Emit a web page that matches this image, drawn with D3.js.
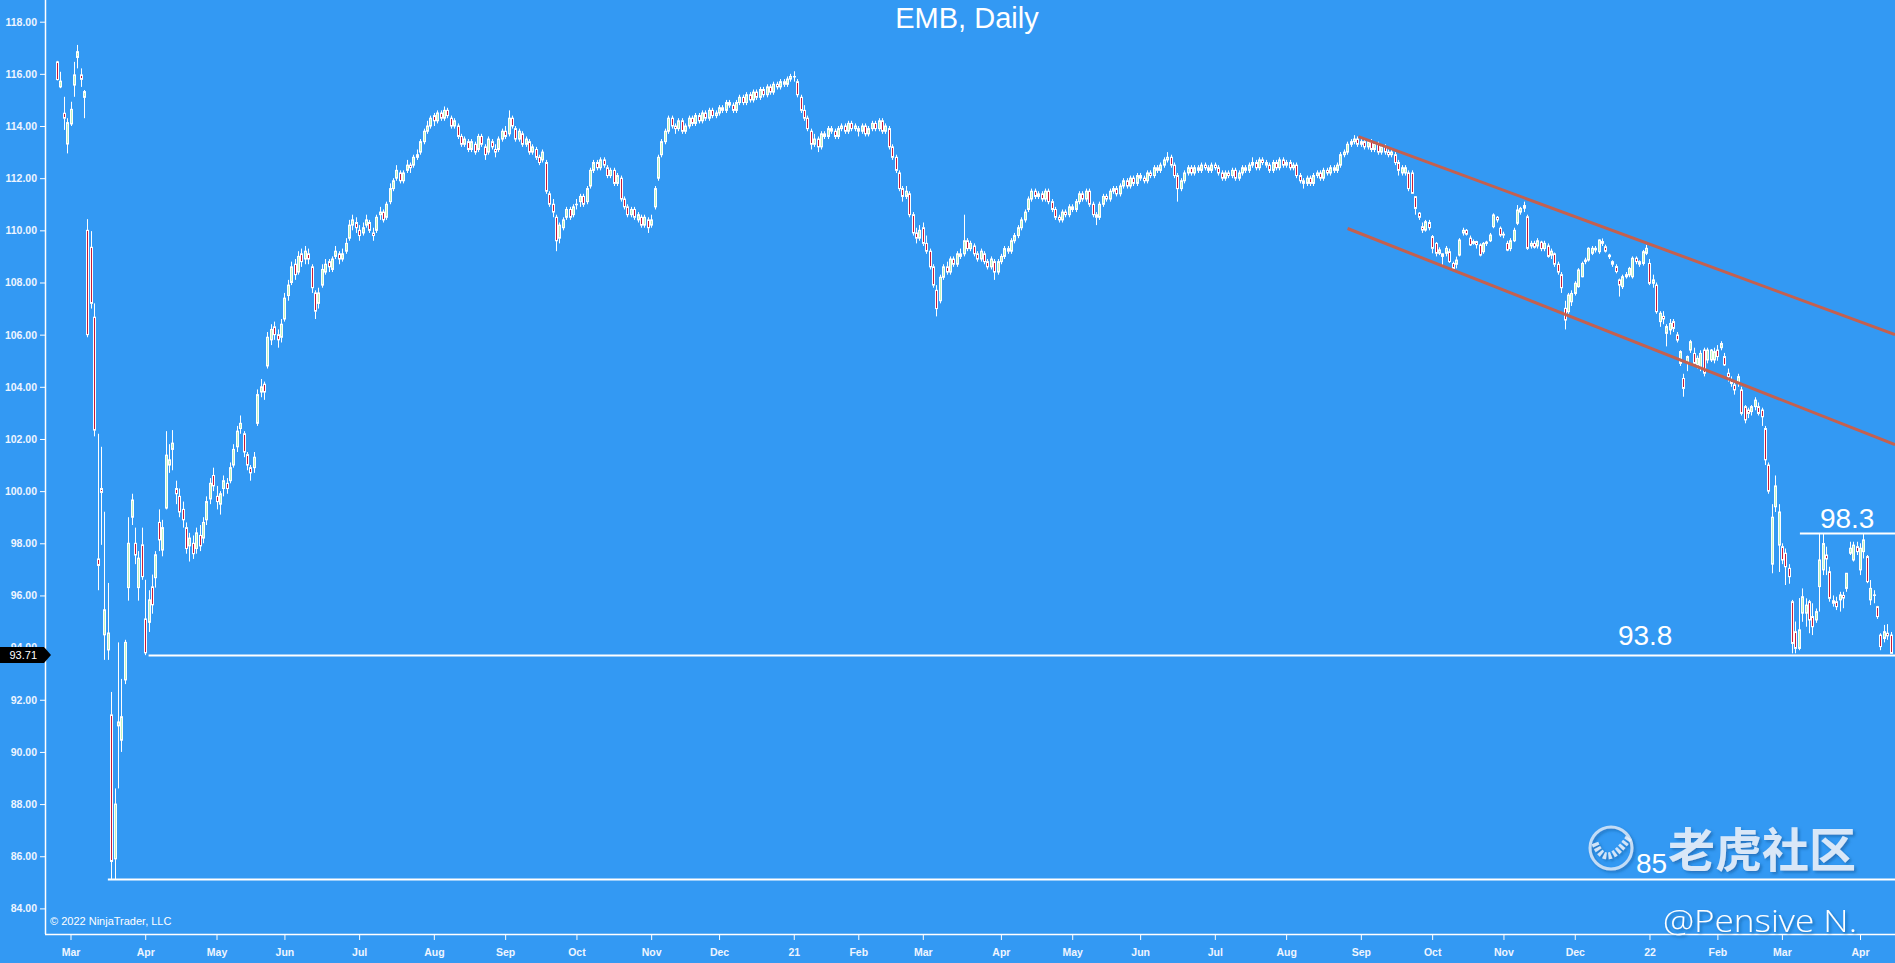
<!DOCTYPE html>
<html>
<head>
<meta charset="utf-8">
<script src="https://d3js.org/d3.v7.min.js"></script>
<style>
  html, body { margin: 0; padding: 0; overflow: hidden; background: #3399f3; }
  svg { display: block; }
  .axis text { fill: #eef5ff; font-family: "Liberation Sans", Arial, sans-serif; font-size: 10.5px; font-weight: bold; }
  .axis line { stroke: #ffffff; }
  .axis path { display: none; }
</style>
</head>
<body>
<script>
// EMB daily bars, Feb 25 2020 .. Apr 14 2022, one row per trading day: [open, high, low, close]
var candles = [
  // Feb 2020
  [116.46,116.5,115.75,115.78],[115.5,116.08,115.45,115.72],[114.49,115.12,113.85,114.3],[113.31,114.3,112.95,114.13],
  // Mar 2020
  [114.08,114.93,114.0,114.64],[115.57,116.46,115.12,115.96],[116.63,117.11,116.21,116.85],[115.96,116.21,115.5,115.79],[115.1,115.38,114.3,115.32],
  [110.0,110.43,105.9,106.0],[109.35,109.97,107.0,107.2],[106.67,107.2,102.1,102.34],[97.4,102.2,96.2,97.15],[100.1,101.7,97.94,99.95],
  [94.49,99.21,93.53,95.45],[93.91,96.48,93.53,94.56],[91.42,92.3,85.1,85.8],[85.9,88.6,85.1,88.0],[91.0,94.2,88.6,91.15],
  [90.45,92.8,90.0,91.35],[92.76,94.3,92.6,94.2],[96.3,99.0,95.8,98.0],[99.0,99.9,98.7,99.66],[98.0,98.6,97.2,97.55],
  [96.3,97.7,95.8,97.43],[97.94,98.6,96.6,96.72],
  // Apr 2020
  [95.1,96.6,93.71,93.8],[94.97,96.2,94.6,95.83],[96.33,96.8,95.3,95.64],[96.68,97.7,96.3,97.56],[98.8,99.3,97.7,98.13],
  [97.74,98.9,97.5,98.6],[99.35,102.3,99.3,101.38],[101.0,101.8,100.7,101.2],[101.6,102.34,100.8,101.84],[100.1,100.4,99.5,99.9],
  [99.8,100.1,99.0,99.2],[99.3,99.6,98.6,98.9],[98.6,98.8,97.6,97.8],[97.9,98.4,97.3,98.2],[98.0,98.3,97.4,97.6],
  [97.8,98.6,97.6,98.4],[98.3,98.7,97.7,97.9],[98.2,99.0,98.0,98.8],[98.9,99.8,98.7,99.6],[99.7,100.5,99.5,100.3],
  [100.6,100.9,100.0,100.2],
  // May 2020
  [99.8,100.2,99.3,99.6],[99.5,100.0,99.1,99.9],[100.1,100.6,99.8,100.4],[100.3,100.5,99.9,100.1],[100.4,101.1,100.3,100.9],
  [101.0,101.8,100.9,101.6],[101.7,102.5,101.5,102.3],[102.4,102.9,102.2,102.6],[102.2,102.3,101.3,101.5],[101.4,101.5,100.8,101.0],
  [100.9,101.0,100.4,100.7],[100.9,101.5,100.7,101.3],[102.6,103.9,102.5,103.7],[103.8,104.3,103.6,104.0],[104.1,104.2,103.5,103.8],
  [104.8,106.1,104.7,105.9],[105.8,106.4,105.6,106.2],[106.3,106.5,105.8,106.0],[106.0,106.2,105.5,105.8],[105.9,106.6,105.7,106.4],
  // Jun 2020
  [106.6,107.6,106.5,107.4],[107.5,108.1,107.3,107.9],[108.0,108.8,107.9,108.6],[108.7,108.9,108.1,108.3],[108.4,109.2,108.3,109.0],
  [109.1,109.3,108.6,108.8],[108.9,109.4,108.7,109.2],[109.1,109.3,108.7,108.9],[108.6,108.7,107.6,107.8],[107.6,107.7,106.6,106.9],
  [107.2,107.8,107.0,107.6],[107.9,108.7,107.8,108.5],[108.4,108.9,108.3,108.7],[108.8,108.9,108.4,108.6],[108.5,109.0,108.4,108.9],
  [109.0,109.4,108.9,109.2],[109.1,109.2,108.7,108.9],[108.9,109.3,108.8,109.1],[109.2,109.7,109.1,109.5],[109.7,110.4,109.6,110.2],
  [110.2,110.6,110.0,110.4],[110.3,110.5,109.9,110.1],
  // Jul 2020
  [110.0,110.2,109.6,109.8],[109.9,110.3,109.8,110.1],[110.2,110.6,110.1,110.4],[110.3,110.4,109.9,110.0],[109.9,110.1,109.6,109.8],
  [110.0,110.6,109.9,110.5],[110.6,110.9,110.4,110.7],[110.7,110.8,110.3,110.4],[110.5,111.1,110.4,111.0],[111.1,111.8,111.0,111.6],
  [111.6,112.0,111.5,111.9],[112.0,112.5,111.9,112.3],[112.2,112.3,111.8,111.9],[111.9,112.3,111.8,112.2],[112.3,112.7,112.2,112.5],
  [112.5,112.6,112.2,112.4],[112.5,112.9,112.4,112.8],[112.8,113.1,112.7,112.9],[113.0,113.5,112.9,113.4],[113.4,113.9,113.3,113.8],
  [113.8,114.2,113.7,114.0],[114.0,114.4,113.9,114.3],
  // Aug 2020
  [114.4,114.5,114.0,114.2],[114.2,114.6,114.1,114.5],[114.5,114.6,114.2,114.3],[114.3,114.75,114.2,114.6],[114.6,114.7,114.3,114.4],
  [114.3,114.4,113.9,114.0],[114.0,114.3,113.9,114.2],[114.0,114.1,113.5,113.6],[113.6,113.7,113.2,113.3],[113.3,113.6,113.2,113.5],
  [113.4,113.5,113.0,113.1],[113.1,113.5,113.0,113.4],[113.3,113.4,112.9,113.0],[113.1,113.7,113.0,113.6],[113.6,113.7,113.2,113.3],
  [113.2,113.3,112.7,112.9],[113.0,113.6,112.9,113.5],[113.4,113.5,113.1,113.2],[113.1,113.3,112.8,113.0],[113.1,113.6,113.0,113.5],
  [113.5,113.9,113.4,113.8],
  // Sep 2020
  [113.8,114.0,113.5,113.6],[113.7,114.6,113.6,114.3],[114.3,114.4,113.9,114.0],[113.9,114.0,113.4,113.5],[113.5,113.9,113.4,113.8],
  [113.7,113.8,113.2,113.3],[113.3,113.6,113.2,113.5],[113.4,113.5,112.9,113.0],[113.0,113.3,112.9,113.2],[113.1,113.2,112.7,112.8],
  [112.8,112.9,112.5,112.6],[112.7,113.1,112.6,113.0],[112.6,112.7,111.4,111.5],[111.4,111.5,110.9,111.0],[111.0,111.2,110.5,110.7],
  [110.5,110.6,109.2,109.6],[109.7,110.3,109.5,110.2],[110.1,110.5,110.0,110.4],[110.5,110.9,110.4,110.8],[110.8,110.9,110.4,110.5],
  [110.6,111.0,110.5,110.9],
  // Oct 2020
  [111.0,111.2,110.8,111.0],[111.1,111.4,110.9,111.3],[111.3,111.4,110.9,111.0],[111.1,111.7,111.0,111.6],[111.7,112.4,111.6,112.3],
  [112.3,112.7,112.2,112.6],[112.6,112.7,112.3,112.4],[112.4,112.8,112.3,112.7],[112.7,112.8,112.4,112.5],[112.4,112.5,112.0,112.1],
  [112.1,112.4,112.0,112.3],[112.3,112.4,111.7,111.8],[111.8,112.2,111.7,112.1],[112.0,112.1,111.1,111.2],[111.2,111.3,110.8,110.9],
  [110.9,111.0,110.5,110.6],[110.6,110.9,110.5,110.8],[110.8,110.9,110.4,110.5],[110.4,110.7,110.3,110.6],[110.5,110.6,110.1,110.2],
  [110.2,110.6,110.1,110.5],[110.4,110.5,109.9,110.1],
  // Nov 2020
  [110.2,110.6,110.1,110.4],[110.9,111.7,110.8,111.6],[112.0,112.9,111.9,112.8],[112.9,113.5,112.8,113.4],[113.4,113.9,113.3,113.8],
  [113.8,114.4,113.7,114.3],[114.3,114.4,113.9,114.0],[114.0,114.1,113.7,113.9],[113.9,114.3,113.8,114.2],[114.2,114.3,113.7,113.8],
  [113.8,114.1,113.7,114.0],[114.0,114.4,113.9,114.3],[114.3,114.4,114.0,114.1],[114.1,114.5,114.0,114.4],[114.4,114.5,114.1,114.2],
  [114.2,114.6,114.1,114.5],[114.5,114.6,114.2,114.3],[114.3,114.7,114.2,114.6],[114.6,114.7,114.3,114.4],[114.4,114.6,114.3,114.5],
  // Dec 2020
  [114.5,114.8,114.4,114.7],[114.7,114.8,114.5,114.6],[114.6,115.0,114.5,114.9],[114.9,115.0,114.7,114.8],[114.8,114.9,114.5,114.6],
  [114.6,115.0,114.5,114.9],[114.9,115.2,114.8,115.1],[115.1,115.2,114.8,114.9],[114.9,115.3,114.8,115.2],[115.2,115.3,114.9,115.0],
  [115.0,115.4,114.9,115.3],[115.3,115.4,115.0,115.1],[115.1,115.5,115.0,115.4],[115.4,115.5,115.1,115.2],[115.2,115.6,115.1,115.5],
  [115.5,115.6,115.2,115.3],[115.3,115.7,115.2,115.6],[115.6,115.7,115.4,115.5],[115.5,115.8,115.4,115.7],[115.7,115.8,115.5,115.6],
  [115.6,115.9,115.5,115.8],[115.8,116.0,115.7,115.9],
  // Jan 2021
  [115.9,116.1,115.7,115.9],[115.7,115.8,115.1,115.2],[115.1,115.2,114.5,114.6],[114.6,114.8,114.2,114.3],[114.3,114.4,113.8,113.9],
  [113.8,113.9,113.1,113.3],[113.3,113.7,113.2,113.5],[113.5,113.6,113.0,113.2],[113.2,113.8,113.1,113.7],[113.7,113.8,113.5,113.6],
  [113.6,114.0,113.5,113.9],[113.9,114.0,113.7,113.8],[113.8,113.9,113.5,113.6],[113.6,114.0,113.5,113.9],[113.9,114.1,113.8,114.0],
  [114.0,114.1,113.7,113.8],[113.8,114.2,113.7,114.1],[114.1,114.2,113.8,113.9],[113.9,114.1,113.8,114.0],
  // Feb 2021
  [113.9,114.0,113.6,113.8],[113.8,114.1,113.7,114.0],[114.0,114.1,113.6,113.7],[113.7,114.0,113.6,113.9],[113.9,114.2,113.8,114.1],
  [114.1,114.2,113.8,113.9],[113.9,114.3,113.8,114.2],[114.2,114.3,113.7,113.8],[113.8,114.1,113.7,114.0],[113.9,114.0,113.1,113.2],
  [113.2,113.3,112.7,112.8],[112.8,112.9,112.2,112.3],[112.2,112.3,111.5,111.6],[111.6,111.7,111.1,111.3],[111.3,111.7,111.2,111.5],
  [111.4,111.5,110.5,110.6],[110.6,110.7,109.8,109.9],[109.9,110.1,109.5,109.7],[109.7,110.2,109.6,110.0],
  // Mar 2021
  [110.1,110.3,109.4,109.5],[109.5,109.8,109.1,109.2],[109.2,109.3,108.5,108.6],[108.6,108.7,107.8,107.9],[107.7,107.9,106.7,107.0],
  [107.3,108.3,107.2,108.2],[108.2,108.7,108.1,108.6],[108.6,108.8,108.3,108.4],[108.4,109.0,108.3,108.9],[108.9,109.0,108.6,108.7],
  [108.7,109.2,108.6,109.1],[109.1,109.3,108.9,109.0],[109.1,110.6,109.0,109.6],[109.6,109.7,109.2,109.3],[109.3,109.6,109.2,109.5],
  [109.4,109.5,109.0,109.1],[109.1,109.2,108.8,108.9],[108.9,109.3,108.8,109.2],[109.1,109.2,108.7,108.8],[108.8,108.9,108.5,108.6],
  [108.6,109.0,108.5,108.9],[108.8,108.9,108.1,108.4],[108.4,108.9,108.3,108.8],
  // Apr 2021
  [108.8,109.1,108.7,109.0],[109.0,109.4,108.9,109.3],[109.3,109.4,109.1,109.2],[109.2,109.7,109.1,109.6],[109.6,109.9,109.5,109.8],
  [109.8,110.2,109.7,110.1],[110.1,110.5,110.0,110.4],[110.4,110.8,110.3,110.7],[110.8,111.3,110.7,111.2],[111.2,111.6,111.1,111.5],
  [111.5,111.6,111.2,111.3],[111.3,111.5,111.2,111.4],[111.4,111.5,111.1,111.2],[111.2,111.6,111.1,111.5],[111.5,111.6,111.0,111.1],
  [111.1,111.2,110.7,110.8],[110.8,110.9,110.4,110.5],[110.5,110.6,110.3,110.4],[110.4,110.8,110.3,110.7],[110.7,110.8,110.5,110.6],
  [110.6,111.0,110.5,110.9],
  // May 2021
  [110.9,111.0,110.7,110.8],[110.8,111.2,110.7,111.1],[111.1,111.5,111.0,111.4],[111.4,111.5,111.1,111.2],[111.2,111.6,111.1,111.5],
  [111.5,111.6,110.9,111.0],[111.0,111.1,110.5,110.6],[110.6,110.7,110.2,110.5],[110.5,111.1,110.4,111.0],[111.0,111.4,110.9,111.3],
  [111.3,111.4,111.1,111.2],[111.2,111.6,111.1,111.5],[111.5,111.7,111.4,111.6],[111.6,111.7,111.3,111.4],[111.4,111.8,111.3,111.7],
  [111.7,112.0,111.6,111.9],[111.9,112.0,111.6,111.7],[111.7,112.1,111.6,112.0],[112.0,112.1,111.7,111.8],[111.8,112.2,111.7,112.1],
  // Jun 2021
  [112.1,112.2,111.9,112.0],[112.0,112.1,111.8,111.9],[111.9,112.3,111.8,112.2],[112.2,112.3,112.0,112.1],[112.1,112.5,112.0,112.4],
  [112.4,112.5,112.2,112.3],[112.3,112.6,112.2,112.5],[112.5,112.8,112.4,112.7],[112.7,113.0,112.6,112.8],[112.8,112.9,112.4,112.5],
  [112.5,112.6,112.0,112.1],[112.1,112.2,111.1,111.6],[111.6,112.0,111.5,111.9],[111.9,112.3,111.8,112.2],[112.2,112.5,112.1,112.4],
  [112.4,112.5,112.1,112.2],[112.2,112.5,112.1,112.4],[112.4,112.5,112.2,112.3],[112.3,112.6,112.2,112.5],[112.5,112.6,112.3,112.4],
  [112.4,112.5,112.2,112.3],[112.3,112.6,112.2,112.5],
  // Jul 2021
  [112.5,112.6,112.3,112.4],[112.4,112.5,112.1,112.2],[112.2,112.3,111.9,112.0],[112.0,112.3,111.9,112.2],[112.2,112.3,112.0,112.1],
  [112.1,112.4,112.0,112.3],[112.3,112.4,111.9,112.0],[112.0,112.3,111.9,112.2],[112.2,112.5,112.1,112.4],[112.4,112.5,112.2,112.3],
  [112.3,112.6,112.2,112.5],[112.5,112.8,112.4,112.6],[112.6,112.7,112.3,112.4],[112.4,112.8,112.3,112.7],[112.7,112.8,112.5,112.6],
  [112.6,112.7,112.4,112.5],[112.5,112.6,112.2,112.3],[112.3,112.7,112.2,112.6],[112.6,112.7,112.3,112.4],[112.4,112.8,112.3,112.7],
  [112.7,112.8,112.4,112.5],
  // Aug 2021
  [112.5,112.7,112.4,112.6],[112.6,112.7,112.3,112.4],[112.4,112.6,112.3,112.5],[112.5,112.6,112.0,112.1],[112.1,112.2,111.8,111.9],
  [111.9,112.0,111.6,111.8],[111.8,112.1,111.7,112.0],[112.0,112.1,111.7,111.8],[111.8,112.2,111.7,112.1],[112.1,112.3,112.0,112.2],
  [112.2,112.3,111.9,112.0],[112.0,112.4,111.9,112.3],[112.3,112.4,112.1,112.2],[112.2,112.5,112.1,112.4],[112.4,112.5,112.2,112.3],
  [112.3,112.6,112.2,112.5],[112.5,113.0,112.4,112.9],[112.9,113.1,112.8,113.0],[113.0,113.4,112.9,113.3],[113.3,113.5,113.2,113.4],
  [113.4,113.65,113.3,113.5],[113.5,113.6,113.2,113.3],
  // Sep 2021
  [113.3,113.5,113.2,113.4],[113.4,113.5,113.1,113.2],[113.2,113.5,113.1,113.4],[113.4,113.5,113.0,113.1],[113.1,113.4,113.0,113.3],
  [113.3,113.4,112.9,113.0],[113.0,113.3,112.9,113.2],[113.2,113.3,112.9,113.0],[113.0,113.1,112.8,112.9],[112.9,113.1,112.8,113.0],
  [112.9,113.0,112.5,112.6],[112.6,112.7,112.1,112.3],[112.2,112.5,112.1,112.4],[112.2,112.5,112.1,112.4],[112.2,112.3,111.5,111.6],
  [112.2,112.3,111.4,111.42],[111.29,111.3,110.6,110.84],[110.66,110.7,110.4,110.5],[110.14,110.3,109.9,110.01],[110.01,110.4,109.95,110.33],
  [110.3,110.4,110.0,110.1],
  // Oct 2021
  [109.76,109.82,109.12,109.31],[109.5,109.55,109.0,109.12],[109.12,109.35,109.05,109.25],[109.1,109.12,108.6,109.0],[109.12,109.4,109.0,109.31],
  [109.18,109.3,108.75,108.8],[108.73,108.8,108.5,108.54],[108.7,108.99,108.54,108.86],[109.05,109.7,109.0,109.63],[109.9,110.1,109.8,110.0],
  [110.0,110.05,109.8,109.85],[109.7,109.8,109.4,109.44],[109.5,109.65,109.45,109.57],[109.57,109.6,109.3,109.45],[109.44,109.5,109.0,109.05],
  [109.18,109.55,109.1,109.5],[109.5,109.6,109.4,109.55],[109.6,109.9,109.55,109.82],[110.14,110.65,110.08,110.59],[110.5,110.55,110.3,110.4],
  [110.08,110.15,109.75,109.82],
  // Nov 2021
  [109.85,109.95,109.7,109.82],[109.5,109.6,109.2,109.24],[109.3,109.7,109.2,109.6],[109.6,110.1,109.55,110.0],[110.27,110.97,110.2,110.78],
  [110.7,110.9,110.6,110.84],[110.85,111.1,110.7,110.95],[110.52,110.6,109.25,109.31],[109.4,109.6,109.3,109.5],[109.5,109.6,109.3,109.35],
  [109.4,109.7,109.3,109.6],[109.55,109.6,109.2,109.3],[109.3,109.6,109.2,109.5],[109.4,109.5,108.95,109.0],[109.05,109.3,108.9,109.2],
  [109.1,109.15,108.6,108.7],[108.7,108.8,108.3,108.4],[108.3,108.4,107.6,107.8],[107.01,107.3,106.2,106.56],[106.88,107.6,106.8,107.52],
  [107.26,107.7,107.1,107.58],
  // Dec 2021
  [107.58,108.05,107.5,107.97],[107.84,108.55,107.8,108.48],[108.22,108.8,108.2,108.73],[108.8,108.95,108.7,108.86],[108.86,109.35,108.8,109.31],
  [109.12,109.4,109.05,109.31],[109.31,109.4,109.15,109.25],[109.18,109.65,109.1,109.63],[109.57,109.69,109.4,109.5],[109.37,109.45,109.15,109.2],
  [109.05,109.1,108.9,108.99],[108.8,108.85,108.6,108.7],[108.61,108.7,108.35,108.42],[108.1,108.15,107.46,107.9],[107.84,108.3,107.75,108.22],
  [108.22,108.4,108.15,108.3],[108.29,108.6,108.2,108.54],[108.22,109.0,108.15,108.93],[108.93,109.0,108.7,108.8],[108.8,108.85,108.6,108.7],
  [108.73,109.25,108.65,109.18],[109.12,109.44,109.05,109.31],
  // Jan 2022
  [108.73,108.9,107.9,107.97],[107.97,108.3,107.8,108.1],[107.9,108.0,106.8,106.88],[106.5,106.9,106.3,106.82],[106.7,106.9,106.4,106.6],
  [106.05,106.4,105.55,106.31],[106.18,106.6,106.0,106.43],[106.5,106.6,106.1,106.24],[105.99,106.1,105.7,105.79],[104.9,105.4,104.8,105.35],
  [104.32,104.5,103.62,103.94],[104.9,105.2,104.6,105.16],[105.41,105.8,105.3,105.73],[105.28,105.5,104.8,104.9],[104.84,105.2,104.7,105.09],
  [104.77,105.4,104.6,105.28],[105.41,105.5,104.4,104.52],[105.03,105.5,104.9,105.41],[105.03,105.45,104.95,105.41],[105.03,105.5,104.9,105.35],
  // Feb 2022
  [105.41,105.6,105.0,105.16],[105.5,105.75,105.4,105.66],[105.16,105.3,104.8,104.84],[104.52,104.7,104.2,104.39],[104.26,104.4,104.0,104.13],
  [104.07,104.2,103.7,103.88],[104.13,104.5,104.0,104.39],[103.88,104.0,102.9,102.98],[103.24,103.3,102.6,102.73],[103.11,103.2,102.8,102.98],
  [103.05,103.3,102.9,103.24],[103.24,103.6,103.1,103.49],[103.24,103.4,102.9,102.98],[103.11,103.2,102.5,102.85],[102.4,102.5,101.0,101.2],
  [101.0,101.1,99.9,100.0],[97.2,99.5,96.85,99.0],[99.4,100.6,99.2,100.2],[97.93,99.5,96.9,99.2],
  // Mar 2022
  [97.87,98.0,97.2,97.36],[97.62,97.8,96.4,97.1],[97.04,97.2,96.45,96.72],[95.76,95.83,93.78,94.16],[94.61,95.0,93.78,93.97],
  [93.97,95.9,93.9,94.68],[95.32,96.27,94.99,95.95],[95.32,95.89,94.8,95.63],[95.76,95.83,94.55,95.06],[95.19,95.7,94.48,94.8],
  [95.06,95.5,94.95,95.38],[96.34,98.38,95.38,97.36],[96.98,98.38,96.78,97.99],[97.55,97.87,96.78,97.4],[96.91,97.1,95.76,95.89],
  [95.8,96.0,95.57,95.7],[95.76,95.95,95.44,95.57],[95.83,96.14,95.38,96.02],[96.0,96.14,95.51,95.9],[96.27,96.85,96.14,96.85],
  [97.62,98.06,97.55,97.81],[97.36,98.06,97.3,97.93],[97.87,98.06,97.55,97.68],
  // Apr 2022
  [96.98,98.0,96.78,97.81],[97.68,98.38,97.42,98.13],[97.49,97.55,96.47,96.53],[95.83,96.59,95.63,96.27],[96.0,96.2,95.7,96.02],
  [95.57,95.6,95.1,95.19],[94.48,94.55,93.9,94.04],[94.35,94.87,94.2,94.61],[94.55,94.9,94.3,94.45],[94.48,94.6,93.78,93.78]
];

// x axis: month labels and the bar index of each month's first session
var monthLabels = ["Mar","Apr","May","Jun","Jul","Aug","Sep","Oct","Nov","Dec","21","Feb","Mar","Apr","May","Jun","Jul","Aug","Sep","Oct","Nov","Dec","22","Feb","Mar","Apr"];
var monthStart  = [4,26,47,67,89,111,132,153,175,195,217,236,255,278,299,319,341,362,384,405,426,447,469,489,508,531];

// y axis ticks
var priceTicks = [84,86,88,90,92,94,96,98,100,102,104,106,108,110,112,114,116,118];

// drawn horizontal levels: price, and bar index where the line starts
var levelPrice = [93.71, 85.12, 98.38];
var levelFrom  = [27, 15, 513.3];

// level annotations: text, price it sits on, bar index of its left edge
var noteText  = ["93.8", "85", "98.3"];
var notePrice = [93.71, 85.12, 98.38];
var noteAt    = [459.7, 465, 519.2];

// falling channel drawn by hand: [barIndex, price] end points
var channelUpper = [[383.3, 113.59], [541.3, 106.0]];
var channelLower = [[380.1, 110.07], [541.3, 101.78]];

var lastPrice = 93.71;

var W = 1895, H = 963;
var left = 45, bottom = 934;

var x = d3.scaleLinear().domain([4, 531]).range([70.5, 1860]);
var y = d3.scaleLinear().domain([84, 118]).range([908.4, 21.7]);

var svg = d3.select("body").append("svg")
    .attr("width", W)
    .attr("height", H);

var defs = svg.append("defs");
var sh = defs.append("filter").attr("id", "wmShadow").attr("x", "-10%").attr("y", "-20%").attr("width", "130%").attr("height", "150%");
sh.append("feDropShadow").attr("dx", 2).attr("dy", 2).attr("stdDeviation", 1.5)
    .attr("flood-color", "#174d87").attr("flood-opacity", 0.55);

svg.append("rect").attr("width", W).attr("height", H).attr("fill", "#3399f3");

// title
svg.append("text")
    .attr("x", 967).attr("y", 28)
    .attr("text-anchor", "middle")
    .style("font-family", "'Liberation Sans', Arial, sans-serif")
    .style("font-size", "29px")
    .attr("fill", "#ffffff")
    .text("EMB, Daily");

// axes
var yAxis = d3.axisLeft(y).tickValues(priceTicks).tickFormat(d3.format(".2f")).tickSize(5).tickPadding(3);
svg.append("g").attr("class", "axis")
    .attr("transform", "translate(" + left + ",0)")
    .call(yAxis);

var xAxis = d3.axisBottom(x).tickValues(monthStart).tickFormat(function(d, i) { return monthLabels[i]; })
    .tickSize(6).tickPadding(9);
svg.append("g").attr("class", "axis")
    .attr("transform", "translate(0," + bottom + ")")
    .call(xAxis);

svg.append("line").attr("x1", left + 0.5).attr("x2", left + 0.5).attr("y1", 0).attr("y2", bottom)
    .attr("stroke", "#ffffff").attr("stroke-width", 1.5);
svg.append("line").attr("x1", left).attr("x2", W).attr("y1", bottom + 0.5).attr("y2", bottom + 0.5)
    .attr("stroke", "#ffffff").attr("stroke-width", 1.5);

// candles
var bars = svg.append("g").selectAll("g").data(candles).join("g");
bars.append("line")
    .attr("x1", function(d, i) { return Math.round(x(i)) + 0.5; })
    .attr("x2", function(d, i) { return Math.round(x(i)) + 0.5; })
    .attr("y1", function(d) { return y(d[1]); })
    .attr("y2", function(d) { return y(d[2]); })
    .attr("stroke", "#ffffff")
    .attr("stroke-width", 1);
bars.append("rect")
    .attr("x", function(d, i) { return Math.round(x(i)) - 0.5; })
    .attr("width", 2)
    .attr("y", function(d) { return y(Math.max(d[0], d[3])); })
    .attr("height", function(d) { return Math.max(0.5, Math.abs(y(d[0]) - y(d[3]))); })
    .attr("fill", function(d) { return d[3] >= d[0] ? "#bff5bf" : "#c41c3c"; })
    .attr("stroke", "#ffffff")
    .attr("stroke-width", 1);

// channel
var chLine = d3.line().x(function(d) { return x(d[0]); }).y(function(d) { return y(d[1]); });
[channelUpper, channelLower].forEach(function(c) {
  svg.append("path").attr("d", chLine(c))
      .attr("fill", "none")
      .attr("stroke", "#c4604f")
      .attr("stroke-width", 3);
});

// horizontal levels
levelPrice.forEach(function(p, k) {
  svg.append("line")
      .attr("x1", x(levelFrom[k])).attr("x2", W)
      .attr("y1", Math.round(y(p)) + 0.5).attr("y2", Math.round(y(p)) + 0.5)
      .attr("stroke", "#ffffff")
      .attr("stroke-width", 2);
});

var noteGap = [10, 6, 5];
noteText.forEach(function(t, k) {
  svg.append("text")
      .attr("x", x(noteAt[k]))
      .attr("y", y(notePrice[k]) - noteGap[k])
      .style("font-family", "'Liberation Sans', Arial, sans-serif")
      .style("font-size", "28px")
      .attr("fill", "#ffffff")
      .text(t);
});

// last price marker on the axis
var ty = Math.round(y(lastPrice));
svg.append("path")
    .attr("d", "M0," + (ty - 8) + "H44L51," + ty + "L44," + (ty + 8) + "H0Z")
    .attr("fill", "#000000");
svg.append("text")
    .attr("x", 37).attr("y", ty).attr("dy", "0.35em")
    .attr("text-anchor", "end")
    .style("font-family", "'Liberation Sans', Arial, sans-serif")
    .style("font-size", "11px")
    .attr("fill", "#ffffff")
    .text(d3.format(".2f")(lastPrice));

// copyright
svg.append("text")
    .attr("x", 50).attr("y", 925)
    .style("font-family", "'Liberation Sans', Arial, sans-serif")
    .style("font-size", "11px")
    .attr("fill", "#ffffff")
    .text("\u00a9 2022 NinjaTrader, LLC");

// watermark
var wm = svg.append("g").attr("filter", "url(#wmShadow)");
wm.append("circle").attr("cx", 1611).attr("cy", 848).attr("r", 21)
    .attr("fill", "none").attr("stroke", "rgba(228,238,250,0.8)").attr("stroke-width", 3);
wm.append("path").attr("d", "M1595,843 Q1606,872 1630,836")
    .attr("fill", "none").attr("stroke", "rgba(235,242,252,0.85)").attr("stroke-width", 7)
    .attr("stroke-dasharray", "3,2");
wm.append("text")
    .attr("x", 1668).attr("y", 867)
    .style("font-family", "'Noto Sans CJK SC', sans-serif")
    .style("font-size", "47px")
    .style("font-weight", "bold")
    .attr("fill", "rgba(236,243,252,0.88)")
    .text("老虎社区");
wm.append("text")
    .attr("x", 1663).attr("y", 932)
    .attr("textLength", 194)
    .attr("lengthAdjust", "spacingAndGlyphs")
    .style("font-family", "'Open Sans', sans-serif")
    .style("font-size", "31px")
    .style("font-weight", 300)
    .attr("fill", "#ffffff")
    .text("@Pensive N.");
</script>
</body>
</html>
